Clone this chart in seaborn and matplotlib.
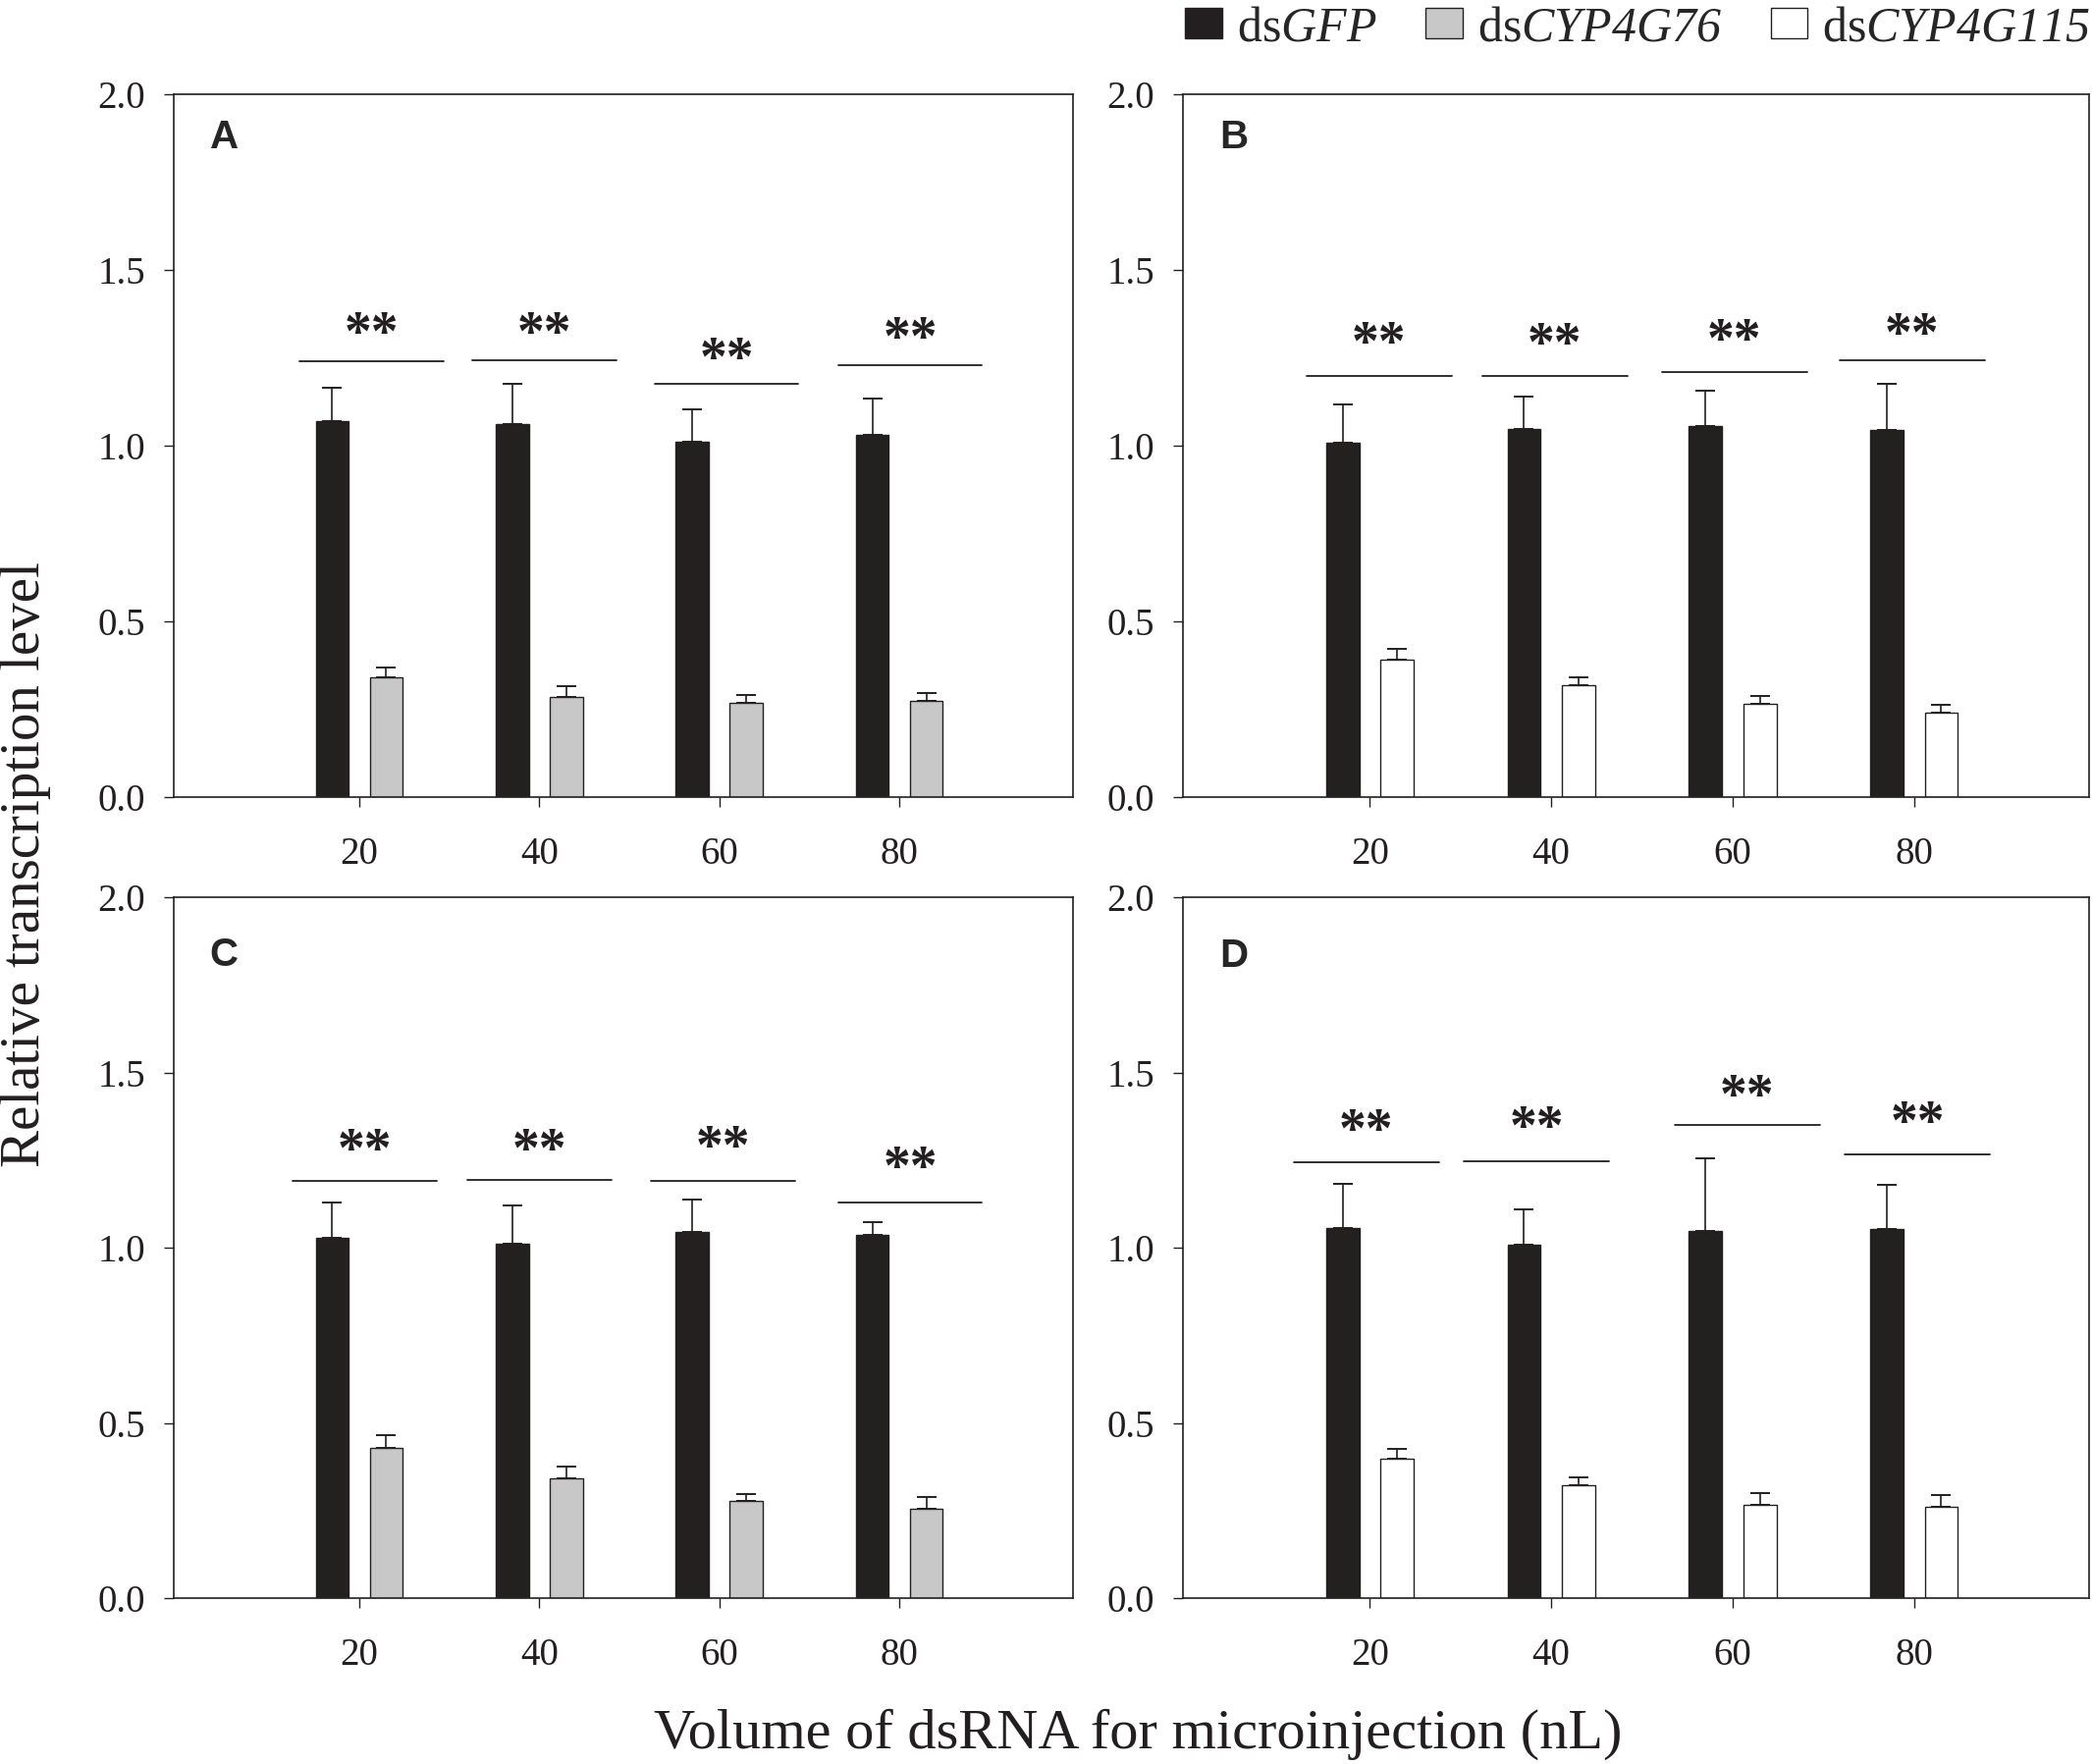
import pandas as pd
import numpy as np
import seaborn as sns
import matplotlib.pyplot as plt
from matplotlib.patches import Patch

volumes = ['20', '40', '60', '80']

# panel A: dsGFP vs dsCYP4G76
a_gfp = [1.07, 1.063, 1.012, 1.031]
a_gfp_err = [0.095, 0.112, 0.091, 0.104]
a_kd = [0.341, 0.286, 0.269, 0.274]
a_kd_err = [0.028, 0.030, 0.023, 0.021]
a_sig_y = [1.240, 1.243, 1.175, 1.228]
a_star_y = [1.346, 1.346, 1.274, 1.331]
a_sig_x0 = [-0.33, -0.37, -0.36, -0.34]

# panel B: dsGFP vs dsCYP4G115
b_gfp = [1.008, 1.049, 1.057, 1.046]
b_gfp_err = [0.110, 0.092, 0.099, 0.129]
b_kd = [0.392, 0.319, 0.266, 0.240]
b_kd_err = [0.030, 0.023, 0.023, 0.022]
b_sig_y = [1.198, 1.198, 1.209, 1.243]
b_star_y = [1.319, 1.316, 1.327, 1.342]
b_sig_x0 = [-0.35, -0.38, -0.39, -0.41]

# panel C: dsGFP vs dsCYP4G76
c_gfp = [1.027, 1.011, 1.046, 1.038]
c_gfp_err = [0.102, 0.111, 0.091, 0.034]
c_kd = [0.430, 0.342, 0.278, 0.255]
c_kd_err = [0.034, 0.034, 0.019, 0.034]
c_sig_y = [1.190, 1.194, 1.190, 1.129]
c_star_y = [1.304, 1.304, 1.312, 1.255]
c_sig_x0 = [-0.37, -0.40, -0.38, -0.34]

# panel D: dsGFP vs dsCYP4G115
d_gfp = [1.057, 1.008, 1.049, 1.053]
d_gfp_err = [0.126, 0.102, 0.206, 0.126]
d_kd = [0.399, 0.323, 0.266, 0.262]
d_kd_err = [0.027, 0.023, 0.034, 0.031]
d_sig_y = [1.243, 1.247, 1.350, 1.266]
d_star_y = [1.361, 1.369, 1.460, 1.384]
d_sig_x0 = [-0.42, -0.48, -0.32, -0.38]

colors = {'dsGFP': '#231f20', 'dsCYP4G76': '#c8c8c8', 'dsCYP4G115': '#ffffff'}
# gene names in italics (mathtext rm/it both mapped to the italic serif)
legend_labels = {'dsGFP': 'ds$\\mathrm{GFP}$',
                 'dsCYP4G76': 'ds$\\mathrm{CYP4G76}$',
                 'dsCYP4G115': 'ds$\\mathrm{CYP4G115}$'}

sns.set_style('ticks')
plt.rcParams['font.family'] = ['Liberation Serif', 'DejaVu Serif']
plt.rcParams['mathtext.fontset'] = 'custom'
plt.rcParams['mathtext.rm'] = 'Liberation Serif:italic'
plt.rcParams['mathtext.it'] = 'Liberation Serif:italic'

fig = plt.figure(figsize=(21.31, 17.97), dpi=100)

panels = [
    ('A', 'dsCYP4G76', a_gfp, a_gfp_err, a_kd, a_kd_err, a_sig_y, a_star_y, a_sig_x0,
     [0.0831, 0.5481, 0.4298, 0.3984], 0.939),
    ('B', 'dsCYP4G115', b_gfp, b_gfp_err, b_kd, b_kd_err, b_sig_y, b_star_y, b_sig_x0,
     [0.5655, 0.5481, 0.4331, 0.3984], 0.939),
    ('C', 'dsCYP4G76', c_gfp, c_gfp_err, c_kd, c_kd_err, c_sig_y, c_star_y, c_sig_x0,
     [0.0831, 0.0940, 0.4298, 0.3973], 0.918),
    ('D', 'dsCYP4G115', d_gfp, d_gfp_err, d_kd, d_kd_err, d_sig_y, d_star_y, d_sig_x0,
     [0.5655, 0.0940, 0.4331, 0.3973], 0.916),
]

for letter, kd_name, gfp, gfp_err, kd, kd_err, sig_y, star_y, sig_x0, rect, ly in panels:
    ax = fig.add_axes(rect)
    df = pd.DataFrame({
        'Volume': volumes * 2,
        'Treatment': ['dsGFP'] * 4 + [kd_name] * 4,
        'Level': gfp + kd,
    })
    sns.barplot(data=df, x='Volume', y='Level', hue='Treatment',
                hue_order=['dsGFP', kd_name], order=volumes,
                palette=[colors['dsGFP'], colors[kd_name]],
                width=0.6, gap=0.39, errorbar=None, legend=False,
                edgecolor='#231f20', linewidth=1.0, ax=ax, zorder=2)

    # error bars (upper only), placed on the bar centres
    for cont, vals, errs in zip(ax.containers, [gfp, kd], [gfp_err, kd_err]):
        xs = [b.get_x() + b.get_width() / 2 for b in cont]
        ax.errorbar(xs, vals, yerr=[np.zeros(len(errs)), errs], fmt='none',
                    ecolor='#231f20', elinewidth=1.2, capsize=7, capthick=1.4,
                    zorder=3)

    # significance lines and stars
    for i in range(len(volumes)):
        x0 = i + sig_x0[i]
        ax.plot([x0, x0 + 0.8], [sig_y[i], sig_y[i]], color='#231f20', lw=1.3)
        ax.text(x0 + 0.4, star_y[i] - 0.072, '**', ha='center', va='baseline',
                fontsize=40, fontweight='bold', color='#231f20')

    ax.set_xlim(-1.03, 3.965)
    ax.set_ylim(0, 2.0)
    ax.set_yticks([0, 0.5, 1.0, 1.5, 2.0])
    ax.set_yticklabels(['0.0', '0.5', '1.0', '1.5', '2.0'])
    ax.set_xlabel('')
    ax.set_ylabel('')
    ax.tick_params(axis='both', direction='out', length=7, width=1.0,
                   labelsize=28, colors='#231f20')
    ax.tick_params(axis='x', pad=22)
    ax.tick_params(axis='y', pad=14)
    for s in ax.spines.values():
        s.set_visible(True)
        s.set_linewidth(1.2)
        s.set_color('#231f20')
    ax.text(0.04, ly, letter, transform=ax.transAxes, ha='left', va='center',
            fontsize=29, fontweight='bold', family='Liberation Sans')

fig.text(0.544, 0.017, 'Volume of dsRNA for microinjection (nL)', ha='center',
         va='center', fontsize=42, color='#231f20')
fig.text(0.012, 0.51, 'Relative transcription level', ha='center', va='center',
         rotation=90, fontsize=41, color='#231f20')

handles = [Patch(facecolor=colors[k], edgecolor='#231f20', linewidth=1.0)
           for k in ['dsGFP', 'dsCYP4G76', 'dsCYP4G115']]
fig.legend(handles, [legend_labels[k] for k in ['dsGFP', 'dsCYP4G76', 'dsCYP4G115']],
           loc='center right', bbox_to_anchor=(0.999, 0.984), ncol=3,
           frameon=False, fontsize=36, handlelength=0.75, handleheight=0.6,
           handletextpad=0.3, columnspacing=1.0, borderpad=0, borderaxespad=0)

fig.savefig('out.png', dpi=100)
